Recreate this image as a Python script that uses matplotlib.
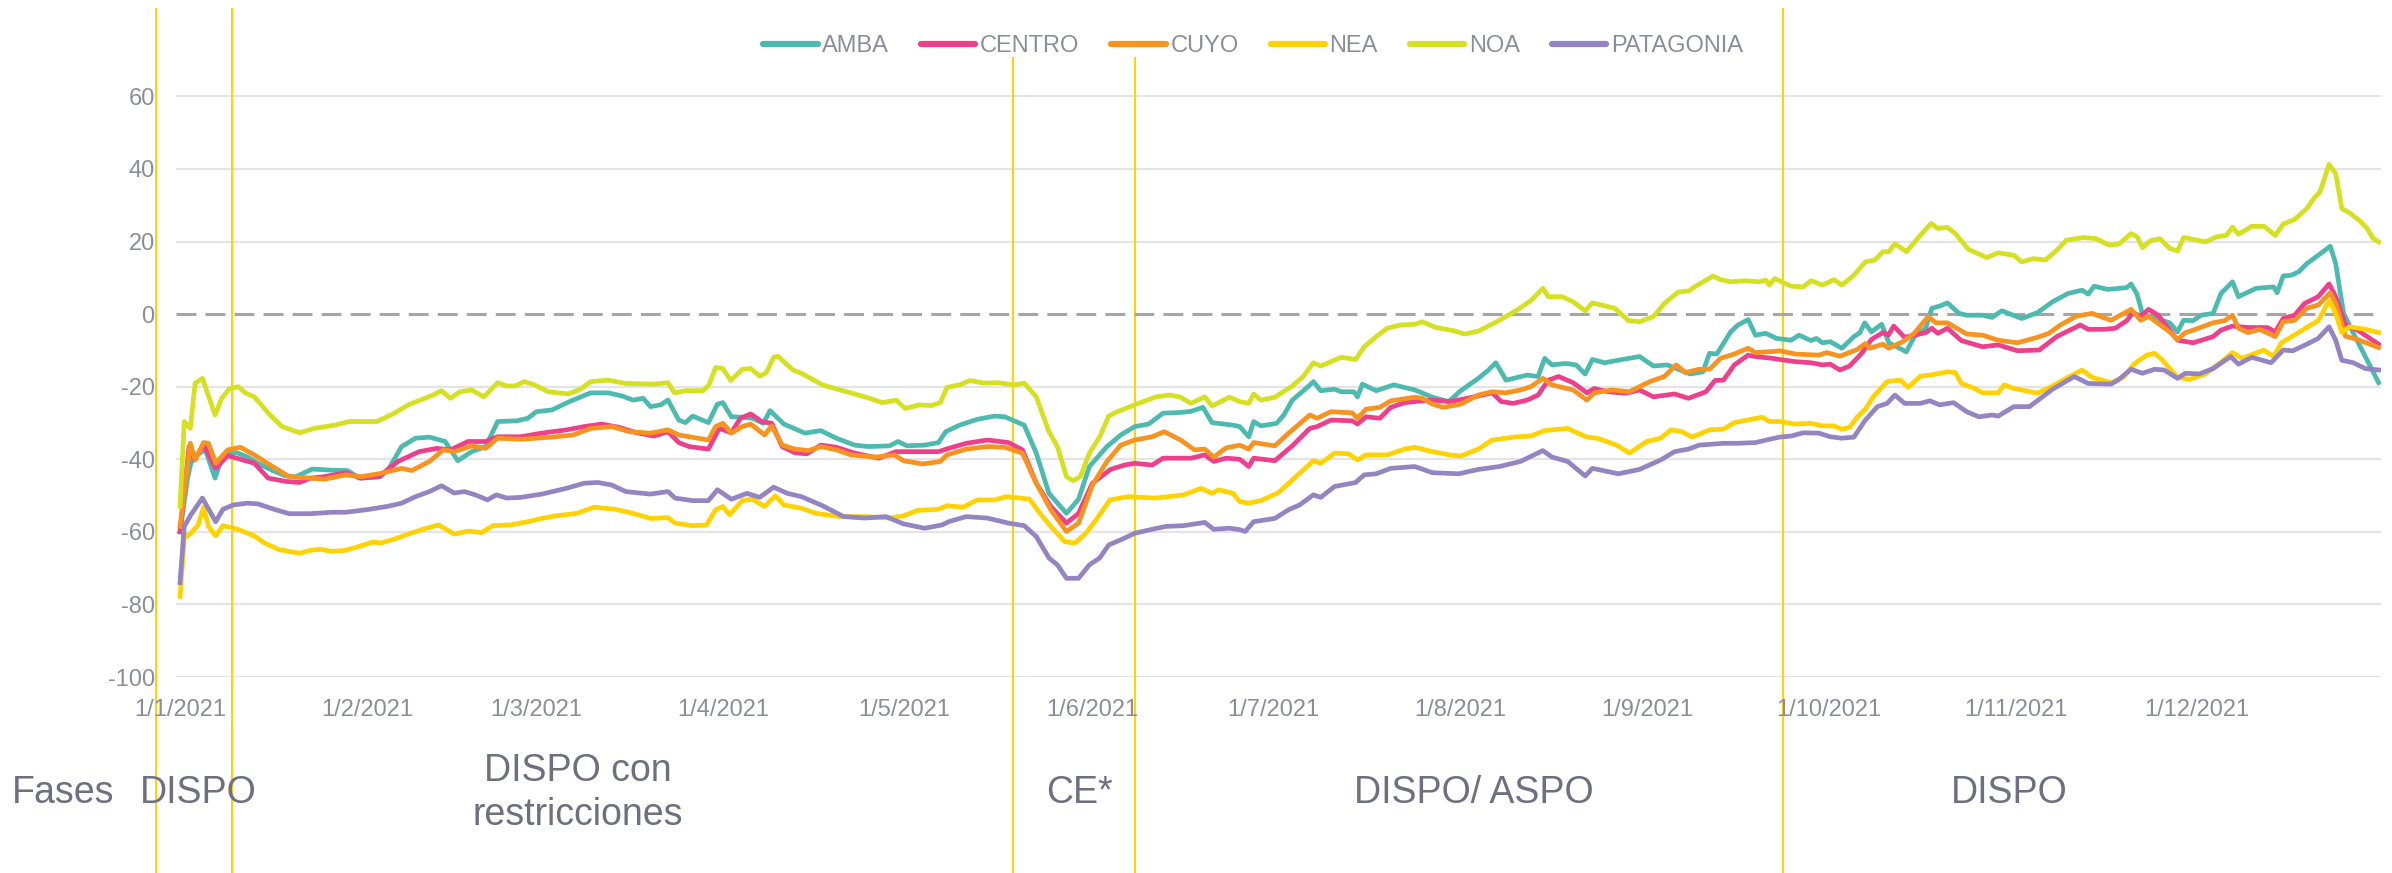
import numpy as np
import matplotlib
matplotlib.use("Agg")
import matplotlib.pyplot as plt
import matplotlib.transforms as mtransforms
from matplotlib.lines import Line2D
from matplotlib.patches import Rectangle

plt.rcParams['font.family'] = ['Liberation Sans', 'DejaVu Sans']
plt.rcParams['axes.unicode_minus'] = False

# datos (dia del año 2021, 0 = 1/1/2021)
amba_dia = [0, 1.2, 1.8, 2.7, 4.2, 5.8, 6.8, 7.9, 9.4, 11.1, 12.9, 15.2, 17.5, 19.2, 21.9, 25.1, 27.7, 29.7, 33.2, 34.6,
            36.7, 39, 41.3, 43.9, 46, 48.3, 50.6, 52.6, 55.8, 57.6, 59, 61.6, 64.5, 68, 70.9, 73.3, 75, 76.7, 77.9, 79.6,
            80.8, 82.6, 83.7, 84.9, 87.5, 89, 89.9, 91.3, 93.1, 94.8, 96.6, 97.7, 100, 103.5, 106.1, 108.7, 111.7, 114,
            117.5, 118.9, 120.4, 123.3, 125.6, 126.8, 129.1, 132, 134.9, 136.6, 139.8, 141.8, 143.9, 146.8, 148.8, 150.6,
            153.5, 155.8, 158.1, 160.4, 162.8, 165.7, 167.4, 169.4, 170.9, 174.4, 175.5, 177, 177.8, 179, 181.6, 182.8,
            184.2, 186.2, 187.7, 188.9, 191.2, 192.3, 194.4, 195, 195.8, 198.1, 201, 204.5, 207.4, 210.1, 212.1, 215,
            216.7, 217.9, 219.6, 223.1, 224.9, 226, 227.2, 229.5, 231.2, 232.7, 233.9, 235.9, 238.2, 241.7, 244, 246.3,
            248.1, 250.1, 252.2, 253.3, 254.5, 255.6, 256.8, 258, 259.7, 260.9, 262.6, 264.4, 266.8, 268.1, 270.1, 271,
            272, 273.3, 275.2, 277.2, 278.2, 279, 280.1, 281.8, 283, 285.9, 287.2, 289.1, 290.1, 291.4, 292.7, 294.6,
            295.9, 298.5, 300.1, 301.7, 305, 307.6, 310.1, 312.7, 315, 316, 317, 319.2, 322.4, 323.1, 324.1, 325, 326.3,
            329.5, 330.8, 331.8, 333.4, 334.7, 336.7, 338, 339.9, 340.9, 343.8, 346.7, 347.3, 348.3, 349.6, 350.9, 352.2,
            354.1, 356.1, 357, 358.3, 360.2, 361.9, 364.1]
amba = [-60, -45.7, -41, -38.8, -37.4, -45.2, -40.2, -38.3, -38.2, -39.3, -41.1, -43, -44.6, -44.8, -42.7, -43, -43.1,
        -45.2, -44.8, -42.5, -36.5, -34.2, -33.9, -35.1, -40.4, -37.9, -36.5, -29.6, -29.4, -28.7, -26.9, -26.4, -24.1,
        -21.7, -21.7, -22.6, -23.7, -23.2, -25.5, -25, -23.7, -29.2, -29.9, -28.1, -29.9, -24.8, -24.4, -28.3, -28.4,
        -28.7, -30.1, -26.6, -30.3, -32.8, -32.1, -34.2, -36.1, -36.5, -36.3, -35.1, -36.3, -36.1, -35.4, -32.4, -30.6,
        -29, -28.1, -28.3, -30.6, -38.3, -49.4, -54.9, -51, -42, -36.5, -33.3, -31, -30.3, -27.3, -27.1, -26.8, -25.7,
        -29.9, -30.6, -31, -33.8, -29.6, -30.8, -30.1, -27.8, -23.7, -20.9, -18.6, -21.1, -20.7, -21.4, -21.4, -22.8,
        -19.3, -21.1, -19.5, -20.9, -22.9, -24.1, -21.1, -17.7, -15.4, -13.4, -18.2, -16.8, -17.2, -12.2, -14, -13.6,
        -14, -16.5, -12.5, -13.4, -12.7, -11.7, -14.3, -14, -15.2, -16.5, -15.9, -10.8, -11, -8.1, -4.9, -3, -1.5, -5.8,
        -5.3, -6.7, -7.2, -5.8, -7.3, -6.7, -7.9, -7.6, -9.4, -6.2, -5.1, -2.4, -4.9, -2.8, -7.9, -10.4, -6.2, -3.9,
        1.6, 2.2, 3.1, 0.2, -0.3, -0.3, -0.9, 0.9, -1.2, 0.4, 3.4, 5.7, 6.6, 5.5, 7.7, 6.8, 7.3, 8.3, 5.5, 0, -0.7,
        -2.4, -4.9, -1.7, -1.8, -0.3, 0.2, 5.7, 8.9, 4.8, 7.1, 7.5, 5.9, 10.5, 10.7, 11.7, 13.9, 16.2, 18.7, 13.9, 0.2,
        -6.2, -11.7, -18.9]

centro_dia = [0, 1.5, 2.4, 3.9, 5.9, 7.9, 10, 12.3, 14.6, 17.5, 19.8, 21.6, 23.9, 27.4, 30, 32.9, 36.1, 39.6, 42.5, 44.8,
              47.7, 50.6, 52.6, 56.4, 59.9, 64, 66.9, 69.8, 72.7, 75.6, 78.5, 80.8, 82.6, 84.3, 87.5, 89.3, 91.3, 92.8,
              94.5, 96.3, 98, 99.7, 101.8, 103.8, 106.1, 108.7, 111.7, 115.7, 118.6, 122.1, 125.6, 127.3, 130.2, 133.7,
              137.2, 139.5, 141.8, 144.2, 146.8, 148.8, 151.1, 154.1, 156.4, 158.1, 161, 162.8, 167.4, 169.7, 171.2,
              173.2, 175.5, 177, 177.8, 181.3, 184.2, 187.1, 188.3, 190.6, 194.1, 195, 196.4, 198.7, 200.5, 202.8, 204.5,
              207.4, 210.3, 213.2, 217.3, 218.8, 220.8, 223.1, 224.9, 226.6, 228.3, 230.7, 233, 234.2, 236.5, 239.4,
              241.7, 244, 247.5, 249.8, 252.7, 254.2, 255.6, 257.4, 259.7, 260.9, 263.8, 264.9, 267.5, 270.1, 272, 273.3,
              274.9, 276.5, 278.5, 280.1, 282, 282.9, 283.8, 285.6, 287.2, 289.1, 290.1, 291.1, 292.7, 295, 298.5, 301.1,
              304.3, 307.9, 310.8, 314.7, 316, 318.6, 320.5, 322.4, 323.4, 324.7, 326, 327.6, 330.8, 333.4, 336.7, 338,
              339.9, 342.5, 345.7, 347, 348.3, 350.2, 351.8, 354.1, 355.9, 357, 358.6, 360.6, 364.1]
centro = [-60, -36.5, -40.2, -36, -42.5, -39, -40, -41.1, -45.2, -46.1, -46.4, -45.2, -44.8, -43.7, -45.2, -44.8, -40.6,
          -37.9, -37, -37.4, -35.1, -35.1, -33.8, -33.8, -32.8, -31.9, -31, -30.3, -31.2, -32.7, -33.6, -32.4, -35.4,
          -36.5, -37.2, -31.5, -32.7, -28.7, -27.5, -29.6, -30.1, -36.5, -38.2, -38.5, -36.1, -36.7, -38.3, -39.7, -37.9,
          -37.9, -37.9, -37, -35.6, -34.7, -35.4, -37.4, -46.6, -53, -57.6, -54.9, -46.6, -42.8, -41.6, -41.1, -41.6,
          -39.7, -39.7, -38.8, -40.6, -39.7, -40, -42, -39.7, -40.4, -36.3, -31.5, -31, -29.2, -29.4, -30.3, -28.3, -28.7,
          -25.7, -24.4, -24.1, -23.7, -24.1, -23.2, -21.7, -24.1, -24.6, -23.7, -22.3, -18.2, -17.2, -18.9, -21.7, -20.5,
          -21.4, -21.8, -20.9, -22.8, -22, -23.2, -21.4, -18.3, -18.2, -14, -11.3, -11.7, -12.2, -12.5, -13.1, -13.4, -14,
          -13.8, -15.4, -14.3, -10.8, -7, -5.1, -5.8, -3.3, -6.4, -5.8, -5.1, -3.9, -5.3, -3.9, -7.3, -9, -8.5, -10.1,
          -9.9, -6.2, -3, -4.2, -4.2, -3.9, -1.8, 0.4, -0.6, 1.3, -0.3, -7.2, -7.9, -6.2, -4.4, -3.3, -3.7, -3.7, -4.9,
          -1.2, -0.3, 2.9, 4.8, 8.3, 4.8, -3, -4.4, -8.3]

cuyo_dia = [0, 1.7, 2.5, 3.9, 4.7, 5.9, 7.9, 10, 12.3, 15.8, 18.1, 21.6, 23.9, 27.4, 30, 33.2, 36.7, 38.4, 41.3, 43.6,
            45.4, 48.3, 50.6, 52.6, 56.4, 62.2, 65.1, 68, 71.5, 74.4, 77.9, 80.8, 82.6, 87.5, 88.7, 89.9, 91.3, 93.1,
            94.5, 96.8, 98, 99.7, 101.8, 104.1, 106.1, 108.7, 111.1, 115.1, 118.3, 119.8, 123, 125.9, 127, 130.2, 133.7,
            136.6, 139.5, 141.8, 144.2, 146.8, 148.8, 151.1, 153.5, 155.8, 158.1, 161, 163, 165.7, 168, 169.7, 171.2,
            173.2, 175.5, 177, 177.8, 181.3, 183.6, 187.1, 188.3, 190.6, 194.1, 195, 196.4, 198.7, 200.5, 204.5, 205.7,
            207.4, 209.2, 212.1, 215, 217.3, 219.6, 222, 223.7, 225.7, 227.2, 230.7, 233, 234.2, 237.1, 240, 243.4,
            245.8, 247.8, 249.3, 251.6, 253.3, 255.1, 257.4, 259.7, 260.9, 263.8, 264.9, 267.5, 271.4, 272.7, 274.9,
            277.8, 279.1, 279.8, 282, 283, 285.3, 287.2, 289.5, 290.8, 292.7, 295.9, 298.5, 301.1, 304.3, 307.6, 309.5,
            311.4, 314, 316.6, 319.8, 323.1, 324.7, 326, 329.5, 330.8, 332.1, 333.4, 336.7, 338.6, 339.9, 340.9, 342.5,
            344.4, 347, 348.3, 350.2, 352.2, 354.1, 356.1, 357, 358.6, 360.6, 364.1]
cuyo = [-58.5, -35.6, -40.2, -35.4, -35.6, -41.1, -37.4, -36.7, -38.8, -42.5, -44.8, -45.2, -45.5, -44.3, -44.8, -43.9,
        -42.5, -43.1, -40.6, -37.4, -37.9, -36.3, -37, -34.2, -34.5, -33.8, -33.3, -31.5, -31, -32.4, -32.8, -31.9,
        -33.3, -34.7, -31, -30.1, -32.8, -31, -30.3, -33.3, -30.8, -36.1, -37.2, -37.6, -36.5, -37.4, -38.8, -39.4,
        -38.8, -40.4, -41.3, -40.6, -38.8, -37.2, -36.5, -36.7, -38.3, -46.6, -53.9, -59.9, -57.6, -47.1, -40.6, -36.1,
        -34.7, -33.8, -32.4, -34.7, -37.4, -37.2, -39.4, -36.9, -36.1, -37.2, -35.4, -36.3, -32.8, -27.8, -28.7, -26.9,
        -27.2, -28.7, -26.2, -25.7, -23.9, -22.9, -23.2, -24.8, -25.7, -24.8, -22.3, -21.4, -21.7, -20.9, -20, -17.7,
        -19.5, -20.9, -23.7, -21.7, -20.9, -21.4, -18.6, -17.2, -14, -16.1, -15.2, -15.2, -12.2, -11, -9.4, -10.6,
        -10.3, -10.1, -11, -11.3, -10.6, -11.6, -9.7, -8.1, -9.4, -8.3, -9.4, -7.6, -5.3, -0.7, -2.4, -2.4, -5.5, -5.8,
        -7.2, -7.9, -6.4, -5.3, -3, -0.6, 0.2, -1.7, 1.3, -1.7, -0.6, -4.9, -7, -5.1, -4.4, -2.4, -1.8, -0.3, -3.9,
        -5.1, -4.2, -6.2, -2.1, -1.7, 1.6, 2.5, 5.9, 2.9, -6.1, -7, -9.2]

nea_dia = [0, 0.7, 1.8, 3, 3.9, 4.7, 5.9, 7.1, 9.4, 12.3, 14, 16.4, 19.8, 21.6, 23.3, 25.1, 27.4, 29.7, 32, 33.2, 35.5,
           37.8, 40.2, 42.8, 45.4, 47.7, 50, 51.8, 54.7, 57.6, 59.9, 62.2, 65.7, 68.6, 72.1, 75, 77.9, 80.8, 82, 84.9,
           87.2, 88.7, 89.9, 91, 93.1, 94.8, 96.8, 98.6, 100, 102.9, 105.3, 109.3, 113.4, 117.5, 119.8, 122.1, 125.6,
           127, 129.7, 132, 134.9, 136.9, 140.7, 142.4, 144.2, 146.5, 148.2, 150, 151.7, 154, 157, 161.6, 166.2, 169.1,
           170.9, 172, 174.4, 175.5, 177, 179, 181.9, 184.2, 187.7, 188.9, 191.2, 193.5, 195, 196.4, 199.9, 202.8,
           204.5, 207.4, 210.3, 212.1, 215, 217.3, 221.4, 223.7, 226, 229.8, 233, 234.7, 237.9, 240, 242.9, 245.2,
           246.9, 248.7, 250.4, 253.3, 255.6, 257.4, 262, 263.2, 264.9, 267.5, 270.1, 272, 273.9, 275.2, 276.5, 277.8,
           279.1, 280.4, 282.7, 284.9, 286.2, 288.2, 289.8, 292.7, 294, 295, 297.2, 298.5, 301.1, 302.1, 303.7, 305,
           307.6, 310.1, 312.7, 315, 316.6, 319.8, 321.8, 323.7, 325.7, 327, 328.2, 330.8, 332.8, 335.4, 337.9, 339.9,
           341.5, 345.1, 346.7, 348, 351.5, 354.1, 355.9, 357, 358, 359.3, 361.9, 364.1]
nea = [-77.8, -61.7, -60.4, -58.1, -53.2, -58.5, -61.1, -58.3, -59.2, -61.1, -63.1, -64.9, -65.9, -65.1, -64.8, -65.4,
       -65.1, -64, -62.8, -63.1, -62, -60.6, -59.3, -58.1, -60.6, -59.8, -60.2, -58.3, -58.1, -57.2, -56.3, -55.6, -54.9,
       -53.2, -53.8, -54.9, -56.3, -56.1, -57.6, -58.3, -58.1, -53.9, -53, -55.3, -51.4, -51, -53, -50.1, -52.6, -53.5,
       -54.9, -55.8, -55.8, -56.2, -55.6, -54.1, -53.8, -52.8, -53.2, -51.2, -51.2, -50.3, -51, -54.9, -58.5, -62.7,
       -63.1, -60.4, -56.7, -51.2, -50.3, -50.7, -49.8, -48, -49.4, -48.4, -49.4, -51.7, -52.1, -51.4, -49.2, -45.7,
       -40.4, -41.1, -38.3, -38.5, -40.2, -38.8, -38.8, -37.2, -36.7, -37.9, -38.8, -39.1, -37.2, -34.7, -33.8, -33.6,
       -32.1, -31.5, -33.9, -34.2, -36.1, -38.3, -35.1, -34.2, -31.9, -32.4, -33.9, -31.9, -31.7, -29.9, -28.4, -29.6,
       -29.6, -30.3, -30.1, -30.8, -30.8, -31.7, -31.2, -28.3, -26.2, -22.8, -18.6, -18.2, -20.2, -17.1, -16.8, -15.9,
       -16.1, -19.1, -20.5, -21.7, -21.7, -19.5, -20.5, -20.9, -21.8, -19.8, -17.4, -15.4, -17.4, -18.9, -17.4, -13.6,
       -11.3, -10.8, -12.5, -17.4, -18, -16.5, -13.4, -10.6, -12.2, -9.9, -11.7, -7.9, -4.4, -1.8, 3.7, 0.2, -5.1,
       -3.5, -4.2, -5.1]

noa_dia = [0, 0.7, 1.7, 2.5, 3.7, 5.8, 6.9, 8.2, 9.7, 10.8, 12.3, 14.9, 16.9, 19.8, 22.2, 25.6, 28, 32.6, 35.5, 37.8,
           41.9, 43.3, 44.8, 46.3, 48.3, 50.3, 52.6, 54.1, 55.5, 57, 58.7, 61, 64.3, 66.3, 68, 70.9, 73.8, 78.5, 80.8,
           81.9, 83.7, 86.6, 87.6, 88.7, 89.9, 91.2, 93.1, 94.5, 96, 97.1, 98.3, 99, 101.5, 102.9, 106.4, 109.3, 111.7,
           114.6, 116.3, 118.6, 120.1, 122.4, 124.4, 125.9, 127, 129.1, 130.8, 133.1, 135.5, 138.1, 139.8, 141.8, 143.9,
           145.3, 146.8, 147.9, 149.1, 150.6, 152.3, 153.8, 155.2, 158.1, 161.6, 163.9, 165.7, 167.4, 169.7, 170.9,
           173.8, 175.5, 177, 177.8, 179, 181.3, 184.2, 186, 187.7, 188.9, 192.3, 194.7, 196.1, 198.1, 199.9, 202.2,
           204.5, 205.7, 208, 211, 212.7, 215, 218.5, 221.4, 223.7, 225.7, 226.6, 228.9, 230.7, 232.7, 233.9, 237.6,
           239.9, 241.7, 244, 245.8, 248.1, 249.9, 251, 253.9, 255.1, 256.8, 259.1, 261.5, 262.6, 263.2, 264.1, 266.8,
           268.8, 270.1, 272, 273.9, 275.2, 277.2, 279.1, 280.7, 282, 283, 284, 285.9, 288.2, 290, 291.1, 292.7, 294,
           296.2, 299.2, 301.1, 303.7, 305, 306.9, 308.9, 310.8, 312.4, 315.3, 317.3, 319.5, 321.1, 323.1, 324.1, 325,
           326.3, 327.9, 329.5, 330.8, 331.8, 333.4, 335.4, 337.3, 338.9, 339.9, 340.9, 343.1, 345.1, 347, 348.3,
           350.2, 352.2, 353.5, 354.4, 355.9, 357, 358, 359.3, 361.2, 362.2, 363.2, 364.1]
noa = [-53, -29.6, -31.5, -19, -17.7, -27.8, -23.2, -20.5, -20, -21.7, -22.8, -27.8, -31, -32.7, -31.5, -30.6, -29.6,
       -29.6, -27.3, -25, -22.3, -21.1, -23.2, -21.4, -20.9, -22.8, -18.9, -19.8, -19.8, -18.6, -19.5, -21.4, -22,
       -20.7, -18.6, -18.2, -19.1, -19.3, -18.9, -21.7, -21.1, -21.1, -19.5, -14.7, -15, -18.3, -15.2, -15, -17.1, -16.1,
       -11.9, -11.6, -15.4, -16.3, -19.5, -20.9, -22, -23.4, -24.4, -23.7, -26, -25, -25.2, -24.4, -20.2, -19.5, -18.3,
       -19, -18.9, -19.5, -19, -22.8, -32.4, -36.5, -44.8, -45.9, -44.8, -38.3, -33.8, -28.1, -26.9, -25, -22.8, -22.3,
       -22.9, -24.6, -22.8, -25.3, -22.9, -24.1, -24.6, -22, -23.7, -22.9, -19.8, -17.2, -13.4, -14.3, -11.9, -12.5, -9,
       -6.2, -3.9, -3, -2.8, -2.1, -3.7, -4.6, -5.5, -4.7, -1.7, 1.1, 3.7, 7.1, 4.8, 4.8, 3.4, 0.9, 3.1, 1.6, -1.8,
       -2.1, -0.7, 2.9, 6.1, 6.4, 7.7, 10.5, 9.5, 8.9, 9.2, 8.9, 9.4, 8, 9.8, 7.7, 7.5, 9.2, 8, 9.5, 8, 10.7, 14.4,
       14.9, 17.2, 17.2, 19.4, 17.2, 21.7, 25, 23.6, 23.9, 22.2, 17.8, 15.6, 16.9, 16.2, 14.4, 15.3, 14.9, 17.6, 20.4,
       21.1, 20.8, 19, 19.3, 22.2, 21.3, 18.3, 20.2, 20.8, 18.1, 17.4, 21.1, 20.6, 19.9, 21.3, 21.7, 24, 22, 24.2,
       24.2, 21.7, 24.8, 26.1, 29.1, 32.1, 33.7, 41.3, 38.7, 29.1, 27.9, 25.4, 23.6, 20.8, 19.9]

patagonia_dia = [0, 0.7, 1.8, 3.7, 5.9, 7.1, 8.8, 11.1, 12.9, 15.8, 18.1, 21.6, 25.1, 27.4, 30.9, 34.3, 36.7, 39, 41.3,
                 43.3, 45.4, 47.1, 48.9, 50.9, 52.4, 54.1, 56.4, 59.9, 64, 66.9, 69.2, 71.5, 73.8, 77.9, 80.8, 82, 84.9,
                 87.5, 89, 91.3, 93.9, 96, 98.3, 100.6, 102.9, 106.4, 109.9, 113.4, 116.9, 119.8, 123.3, 126.2, 127.3,
                 130.2, 133.7, 137.2, 139.8, 141.8, 143.9, 145.3, 146.8, 148.8, 150.6, 152.3, 153.8, 155.8, 158.1, 161,
                 163.3, 166.2, 169.7, 171.2, 173.8, 175.5, 176.4, 177.8, 181.3, 183.6, 185.4, 187.7, 188.9, 191.2, 194.7,
                 196.1, 198.1, 200.5, 204.5, 207.4, 211.8, 215, 218.5, 222, 225.7, 227.2, 229.8, 232.7, 233.9, 238.2,
                 241.7, 245.2, 247.5, 249.8, 251.6, 255.6, 258, 260.9, 263.2, 264.9, 266.8, 268.8, 271.4, 273.3, 275.2,
                 277.2, 279.1, 281.1, 282.7, 284, 285.6, 288.2, 289.8, 291.4, 293.7, 295.9, 297.9, 300.1, 301.1, 303.7,
                 306.3, 310.1, 313.7, 316, 319.8, 321.1, 323.1, 325, 327, 328.6, 330.8, 332.1, 334.4, 336.7, 339.6, 340.9,
                 343.1, 346.3, 348.3, 349.9, 352.2, 354.1, 355.9, 357, 358, 359.9, 361.9, 364.1]
patagonia = [-74, -58.5, -55.3, -50.7, -57.2, -53.8, -52.6, -52.1, -52.3, -53.9, -55, -55, -54.6, -54.6, -53.9, -53,
             -52.1, -50.3, -48.9, -47.3, -49.3, -48.9, -49.8, -51.2, -49.8, -50.7, -50.5, -49.6, -48, -46.6, -46.4,
             -47.1, -48.9, -49.6, -48.9, -50.7, -51.4, -51.4, -48.4, -51, -49.4, -50.5, -47.7, -49.4, -50.3, -52.8,
             -55.8, -56.2, -55.8, -57.8, -59, -58.1, -57.2, -55.8, -56.2, -57.6, -58.3, -61.3, -67.2, -69.1, -72.8,
             -72.8, -69.1, -67.2, -63.6, -62.2, -60.4, -59.3, -58.5, -58.3, -57.4, -59.3, -59, -59.4, -59.9, -57.2,
             -56.3, -53.9, -52.6, -49.8, -50.5, -47.5, -46.4, -44.3, -44, -42.5, -42, -43.7, -44, -42.8, -42, -40.6,
             -37.6, -39.4, -40.6, -44.6, -42.5, -44, -42.8, -40.2, -37.9, -37.2, -36.1, -35.6, -35.6, -35.4, -34.5,
             -33.9, -33.6, -32.7, -32.8, -33.8, -34.2, -33.9, -29.2, -25.5, -24.6, -22.3, -24.6, -24.6, -23.9, -25,
             -24.4, -26.9, -28.3, -27.8, -28.1, -25.5, -25.5, -20.7, -17.2, -19.1, -19.3, -18, -15.2, -16.3, -15.2,
             -15.4, -17.7, -16.3, -16.5, -15, -11.7, -13.8, -11.9, -13.4, -9.9, -10.1, -8.3, -6.7, -3.5, -7.2, -12.7,
             -13.4, -15, -15.4]

series = ['AMBA', 'CENTRO', 'CUYO', 'NEA', 'NOA', 'PATAGONIA']
colores = ['#4DBAB0', '#EE3F8D', '#F7931E', '#FFD200', '#D5E021', '#9484C2']
dias = [amba_dia, centro_dia, cuyo_dia, nea_dia, noa_dia, patagonia_dia]
valores = [amba, centro, cuyo, nea, noa, patagonia]

meses_dia = [0, 31, 59, 90, 120, 151, 181, 212, 243, 273, 304, 334]
meses_lbl = ['1/1/2021', '1/2/2021', '1/3/2021', '1/4/2021', '1/5/2021', '1/6/2021',
             '1/7/2021', '1/8/2021', '1/9/2021', '1/10/2021', '1/11/2021', '1/12/2021']

# cambios de fase (dia) y etiquetas
fases_lim = [-4, 8.6, 138, 158.1, 265.5]
fases_lbl = ['Fases', 'DISPO', 'DISPO con\nrestricciones', 'CE*', 'DISPO/ ASPO', 'DISPO']
fases_x = [-19.3, 3, 65.9, 148.9, 214.3, 303]

gris = '#8C8D9B'
gris_osc = '#6E6F7F'

fig = plt.figure(figsize=(23.92, 8.73), dpi=100)
ax = fig.add_axes([175.5 / 2392, 196 / 873, (2381 - 175.5) / 2392, 653.2 / 873])

for nombre, c, x, y in zip(series, colores, dias, valores):
    ax.plot(x, y, color=c, lw=3.4, label=nombre, zorder=3, solid_joinstyle='round')

ax.set_xlim(-0.75, 364.5)
ax.set_ylim(-100, 80)
ax.set_yticks(np.arange(-100, 61, 20))
ax.set_xticks(meses_dia)
ax.set_xticklabels(meses_lbl)
for s in ax.spines.values():
    s.set_visible(False)
ax.tick_params(axis='both', length=0, colors=gris, labelsize=17)
ax.tick_params(axis='x', pad=16)
ax.tick_params(axis='y', pad=15)
for v in np.arange(-100, 61, 20):
    if v != 0:
        ax.axhline(v, color='#E4E4E6', lw=1.6, zorder=1)
ax.axhline(0, color='#A6A6A6', lw=2.2, dashes=(6.5, 3), zorder=2)

# lineas verticales de fases
trans = mtransforms.blended_transform_factory(ax.transData, ax.transAxes)
for d in fases_lim:
    ln = Line2D([d, d], [-0.31, 1.0227], transform=trans, color='#FFD200', lw=1.4, zorder=1.5)
    ln.set_clip_on(False)
    ax.add_line(ln)

# fondo blanco detras de la leyenda (tapa las lineas verticales)
fondo = Rectangle((750 / 2392, 1 - 57 / 873), 1010 / 2392, 57 / 873, transform=fig.transFigure,
                  facecolor='white', edgecolor='none', zorder=1.8, clip_on=False)
ax.add_patch(fondo)

leg = ax.legend(loc='center', bbox_to_anchor=(1253 / 2392, 1 - 46 / 873), bbox_transform=fig.transFigure,
                ncol=6, frameon=False, fontsize=17, handlelength=2.3, handletextpad=0.2, columnspacing=1.35)
leg.set_zorder(10)
for t in leg.get_texts():
    t.set_color(gris)
for h in leg.get_lines():
    h.set_linewidth(4.5)
    h.set_solid_capstyle('round')

ftrans = mtransforms.blended_transform_factory(ax.transData, fig.transFigure)
for lbl, x in zip(fases_lbl, fases_x):
    ax.text(x, 1 - 793 / 873, lbl, transform=ftrans, ha='center', va='center', fontsize=27,
            color=gris_osc, linespacing=1.3, clip_on=False)

fig.savefig('out.png', dpi=100)
